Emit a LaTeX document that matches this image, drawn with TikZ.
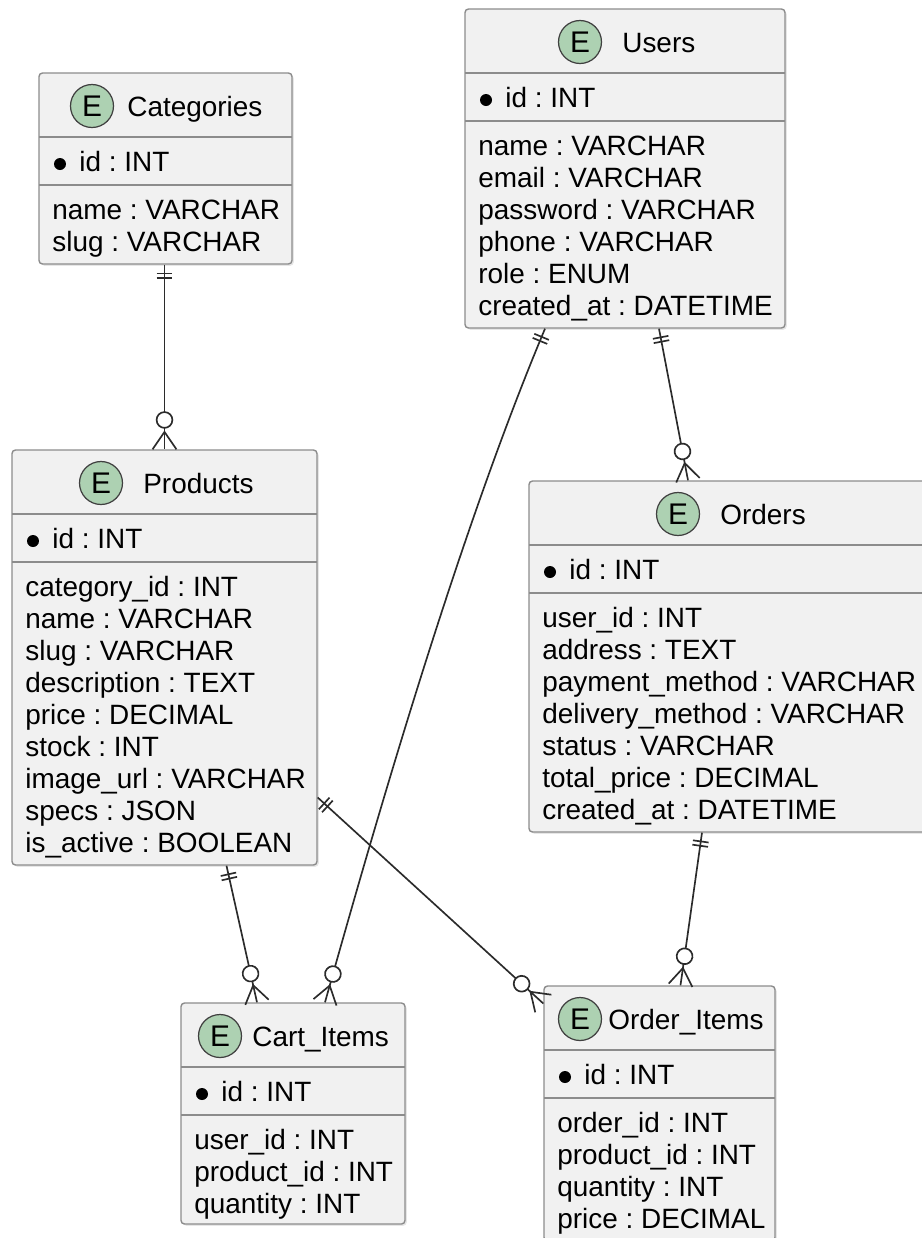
\documentclass[tikz,border=0pt]{standalone}
\usepackage{fontspec}
\setmainfont{Liberation Sans}
\usetikzlibrary{fit,calc,shadows,decorations.markings}
\frenchspacing

\definecolor{entfill}{HTML}{F1F1F1}
\definecolor{entline}{HTML}{8C8C8C}
\definecolor{spotfill}{HTML}{ADD1B2}
\definecolor{relline}{HTML}{2B2B2B}

% one table: box, header, key row, then the other columns
\newcommand{\erentity}[9]{%
  \node[entity, fit={(#2,#3) (#4,#5)}] (#1) {};
  \node[spot] (#1-spot) at (#6,{#3+33}) {E};
  \node[field] (#1-title) at (#7,{#3+43}) {#8};
  \draw[divider] (#2,{#3+64}) -- (#4,{#3+64});
  \node[keydot] (#1-dot) at ({#2+21},{#3+91}) {};
  \node[field] (#1-id) at ({#2+40},{#3+98}) {id : INT};
  \draw[divider] (#2,{#3+112}) -- (#4,{#3+112});
  \foreach \f [count=\i from 0] in {#9}
    \node[field] (#1-f\i) at ({#2+13},{#3+146+32*\i}) {\f};
}

\begin{document}
\begin{tikzpicture}[
  x=0.02cm,
  y=-0.02cm,
  entity/.style={draw=entline, fill=entfill, line width=0.8pt, rounded corners=2pt,
    inner sep=0pt, drop shadow={shadow xshift=1pt, shadow yshift=-1pt, opacity=0.2}},
  spot/.style={circle, draw=black!75, fill=spotfill, line width=0.7pt,
    minimum size=0.86cm, inner sep=0pt, font=\fontsize{17}{18}\selectfont},
  field/.style={anchor=base west, inner sep=0pt, font=\fontsize{15.9}{18}\selectfont},
  keydot/.style={circle, fill=black, minimum size=0.24cm, inner sep=0pt},
  divider/.style={draw=entline, line width=1.6pt},
  relmark/.style={draw=relline, line width=0.95pt},
  rel/.style={relmark},
  onlyone/.style={postaction={decorate, decoration={markings,
    mark=at position 5pt with {\draw[relmark] (0,-4.5pt) -- (0,4.5pt);},
    mark=at position 7.5pt with {\draw[relmark] (0,-4.5pt) -- (0,4.5pt);}}}},
  zeromany/.style={postaction={decorate, decoration={markings,
    mark=at position -9.9pt with {\draw[relmark] (9.9pt,6.8pt) -- (0,0) -- (9.9pt,-6.8pt);},
    mark=at position -16.7pt with {\draw[relmark, fill=white] (0,0) circle (4.5pt);}}}}
]
  \useasboundingbox (0,0) rectangle (922,1238);
  \clip (0,0) rectangle (922,1238);

  % tables
  \erentity{cat}{39}{73}{292}{264}{92}{127}{Categories}{name : VARCHAR, slug : VARCHAR}
  \erentity{users}{465}{9}{785}{328}{580}{622}{Users}{name : VARCHAR, email : VARCHAR,
    password : VARCHAR, phone : VARCHAR, role : ENUM, created\_at : DATETIME}
  \erentity{prod}{12}{450}{317}{865}{101}{143}{Products}{category\_id : INT, name : VARCHAR,
    slug : VARCHAR, description : TEXT, price : DECIMAL, stock : INT, image\_url : VARCHAR,
    specs : JSON, is\_active : BOOLEAN}
  \erentity{orders}{529}{481}{933}{832}{678}{720}{Orders}{user\_id : INT, address : TEXT,
    payment\_method : VARCHAR, delivery\_method : VARCHAR, status : VARCHAR,
    total\_price : DECIMAL, created\_at : DATETIME}
  \erentity{cart}{181}{1003}{405}{1224}{220}{252}{Cart\_Items}{user\_id : INT,
    product\_id : INT, quantity : INT}
  \erentity{oitems}{544}{986}{775}{1241}{580}{608}{Order\_Items}{order\_id : INT,
    product\_id : INT, quantity : INT, price : DECIMAL}

  % relations, the "one" side first
  \draw[rel, onlyone, zeromany] ($(cat.south)+(-1,0)$) -- ($(cat.south |- prod.north)+(-1,0)$);
  \draw[rel, onlyone, zeromany] ($(users.south)+(-80,0)$)
    .. controls +(-84,200) and +(56,-200) .. ($(cart.north)+(32,0)$);
  \draw[rel, onlyone, zeromany] ($(users.south)+(34,0)$) -- ($(orders.north)+(-43,0)$);
  \draw[rel, onlyone, zeromany] ($(prod.south)+(62,0)$) -- ($(cart.north)+(-36,0)$);
  \draw[rel, onlyone, zeromany] ($(prod.east)+(0,140)$) -- ($(oitems.west)+(0,-110)$);
  \draw[rel, onlyone, zeromany] ($(orders.south)+(-29,0)$) -- ($(oitems.north)+(21,0)$);
\end{tikzpicture}
\end{document}
